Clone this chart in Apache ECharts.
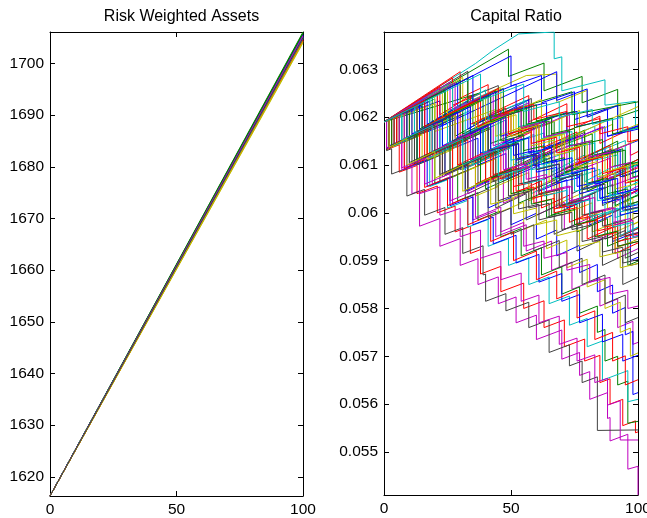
<!DOCTYPE html>
<html>
<head>
<meta charset="utf-8">
<script src="https://cdn.jsdelivr.net/npm/echarts@6/dist/echarts.min.js"></script>
<style>html,body{margin:0;padding:0;background:#fff}#c{width:647px;height:518px}</style>
</head>
<body>
<div id="c"></div>
<script>
// ---------- data ----------
const titles = ['Risk Weighted Assets', 'Capital Ratio'];
const xTicks = [0, 50, 100];
const rwaTicks = [1620, 1630, 1640, 1650, 1660, 1670, 1680, 1690, 1700];
const ratioTicks = [0.055, 0.056, 0.057, 0.058, 0.059, 0.06, 0.061, 0.062, 0.063];
const rwaRange = [1616.3, 1706.1];
const ratioRange = [0.0541, 0.06378];
const rwaStart = 1616.3;
const rwaEnd = [1705.2, 1705.9, 1704.4, 1705.0, 1704.7, 1704.2, 1704.9, 1705.5, 1706.1, 1704.6, 1705.3,
  1705.1, 1704.0, 1704.8, 1705.6, 1705.8, 1704.5, 1704.9, 1705.4, 1704.3, 1705.0];
const palette = ['#0000ff', '#008000', '#ff0000', '#00bfbf', '#bf00bf', '#bfbf00', '#404040'];

const cr01 = [[0,.0619],[8,.0621],[8,.0615],[22,.06185],[22,.0613],[35,.06163],[35,.06105],[52,.06147],[52,.0609],[70,.06135],[70,.0608],[84,.06115],[84,.0606],[95,.06088],[95,.06035],[100,.06048]];
const cr02 = [[0,.0619],[49,.06342],[49,.06285],[63,.06313],[63,.06255],[78,.06285],[78,.0623],[92,.06258],[92,.062],[100,.06214]];
const cr03 = [[0,.0619],[30,.06295],[30,.0624],[41,.06268],[41,.06205],[57,.06245],[57,.0619],[72,.06228],[72,.0617],[85,.06202],[85,.06145],[97,.06175],[97,.0612],[100,.06128]];
const cr04 = [[0,.0619],[36,.06312],[43,.0634],[53,.06374],[67,.06378],[67,.06322],[70,.06326],[70,.06255],[87,.06278],[87,.06225],[99,.06233],[99,.0618],[100,.06181]];
const cr05 = [[0,.0619],[4,.062],[4,.0614],[14,.06165],[14,.0611],[26,.0614],[26,.06085],[33,.06102],[33,.06045],[47,.0608],[47,.0602],[60,.06052],[60,.05995],[71,.06022],[71,.05965],[83,.05995],[83,.0594],[92,.05962],[92,.05905],[100,.05925]];
const cr06 = [[0,.0619],[24,.06262],[24,.0621],[56,.06287],[68,.0629],[68,.0623],[80,.06256],[80,.062],[93,.06228],[93,.0617],[100,.06185]];
const cr07 = [[0,.0619],[33,.06296],[33,.0624],[45,.06266],[45,.0621],[58,.06239],[58,.0618],[66,.06198],[66,.0614],[79,.06168],[79,.0611],[90,.06134],[90,.0608],[100,.06102]];
const cr08 = [[0,.0619],[50,.06328],[50,.06265],[62,.06287],[62,.0623],[75,.06253],[75,.06195],[88,.06218],[88,.0616],[100,.06182]];
const cr09 = [[0,.0619],[2,.06195],[2,.06135],[18,.06172],[18,.06115],[29,.0614],[29,.0608],[40,.06105],[40,.0605],[53,.0608],[53,.0602],[64,.06045],[64,.0599],[76,.06018],[76,.0596],[88,.05988],[88,.0593],[96,.05948],[96,.0589],[100,.05899]];
const cr10 = [[0,.0619],[1,.06192],[1,.06132],[6,.06142],[6,.06085],[13,.06099],[13,.0604],[21,.06056],[21,.06],[28,.06014],[28,.0596],[34,.05972],[34,.05915],[38,.05923],[38,.05872],[46,.05888],[46,.05835],[55,.05853],[55,.058],[63,.05816],[63,.0576],[71,.05776],[71,.0572],[79,.05736],[79,.0569],[85,.05702],[85,.05645],[89,.05653],[89,.056],[94,.0561],[94,.05555],[99,.05565],[99,.0554],[100,.05542]];
const cr11 = [[0,.0619],[12,.06221],[12,.0616],[27,.06199],[27,.0614],[44,.06184],[44,.06125],[59,.06164],[59,.06105],[74,.06144],[74,.0609],[86,.06121],[86,.06065],[99,.06099],[99,.0604],[100,.06042]];
const cr12 = [[0,.0619],[3,.06196],[3,.0614],[8,.0615],[8,.0609],[11,.06096],[11,.0604],[14,.06046],[14,.05972],[22,.05988],[22,.0593],[30,.05946],[30,.0589],[37,.05904],[37,.0585],[45,.05866],[45,.0581],[52,.05824],[52,.0577],[60,.05786],[60,.05735],[70,.05755],[70,.05694],[77,.05708],[77,.0566],[81,.05668],[81,.0561],[88,.05624],[88,.0557],[89,.05572],[89,.05523],[96,.05537],[96,.05464],[100,.0547],[100,.0541]];
const cr13 = [[0,.0619],[6,.06204],[6,.0615],[19,.06181],[19,.06125],[31,.06154],[31,.06095],[42,.06121],[42,.06065],[50,.06084],[50,.0603],[67,.06071],[67,.06015],[78,.06041],[78,.05985],[89,.06011],[89,.05955],[100,.05981]];
const cr14 = [[0,.0619],[1,.06192],[1,.0613],[3,.06134],[3,.06081],[9,.06093],[9,.06035],[16,.06049],[16,.05995],[24,.06011],[24,.05955],[31,.05969],[31,.05915],[39,.05931],[39,.0587],[40,.05872],[40,.05815],[48,.05831],[48,.05795],[57,.05813],[57,.0576],[65,.05776],[65,.05708],[73,.05724],[73,.0568],[78,.0569],[78,.05645],[84,.05657],[84,.05545],[100,.05546]];
const cr15 = [[0,.0619],[15,.06223],[15,.06165],[25,.06187],[25,.0613],[37,.06156],[37,.061],[48,.06124],[48,.0607],[61,.06099],[61,.06045],[72,.06069],[72,.0601],[81,.0603],[81,.05975],[90,.05995],[90,.0594],[97,.05955],[97,.059],[100,.05907]];
const cr16 = [[0,.0619],[38,.06251],[38,.06195],[74,.06253],[74,.06205],[100,.06232]];
const cr17 = [[0,.0619],[5,.06202],[5,.06145],[17,.06175],[17,.0612],[23,.06135],[23,.0608],[36,.06112],[36,.0606],[51,.06097],[51,.0604],[62,.06067],[62,.0601],[73,.06037],[73,.0598],[80,.05997],[80,.05945],[91,.05972],[91,.05915],[100,.05937]];
const cr18 = [[0,.0619],[20,.06238],[20,.0618],[34,.06214],[34,.0616],[48,.06194],[48,.0614],[63,.06167],[63,.0611],[76,.06133],[76,.06075],[85,.06091],[85,.0603],[91,.06041],[91,.0599],[100,.06006]];
const cr19 = [[0,.0619],[1,.06192],[1,.06135],[10,.06154],[10,.061],[19,.06119],[19,.0606],[27,.06077],[27,.0602],[35,.06037],[35,.05985],[44,.06004],[44,.0595],[56,.05975],[56,.0592],[66,.05941],[66,.0588],[74,.05897],[74,.0584],[85,.05863],[85,.05805],[92,.0582],[92,.0576],[98,.05773],[98,.05725],[100,.05729]];
const cr20 = [[0,.0619],[11,.06219],[11,.0616],[26,.06199],[26,.06145],[39,.06179],[39,.0612],[54,.06159],[54,.061],[69,.06139],[69,.06085],[79,.06111],[79,.06055],[88,.06078],[88,.0602],[95,.06038],[95,.0598],[100,.05993]];
const cr21 = [[0,.0619],[7,.06206],[7,.0615],[20,.0618],[20,.06125],[30,.06148],[30,.0609],[43,.0612],[43,.06065],[55,.06093],[55,.0604],[68,.0607],[68,.0601],[77,.06031],[77,.05975],[87,.05998],[87,.05945],[95,.05963],[95,.05905],[100,.05917]];
const cr22 = [[0,.0619],[2,.06195],[2,.0614],[13,.06166],[13,.0611],[24,.06136],[24,.0608],[32,.06099],[32,.06045],[41,.06067],[41,.0601],[50,.06032],[50,.05975],[60,.05999],[60,.05945],[68,.05964],[68,.0591],[77,.05932],[77,.05875],[84,.05892],[84,.05835],[90,.05849],[90,.0579],[95,.05802],[95,.05745],[98,.05752],[98,.0562],[100,.05624]];
const cr23 = [[0,.0619],[4,.06198],[4,.0614],[12,.06157],[12,.061],[20,.06117],[20,.0606],[29,.06079],[29,.06025],[37,.06042],[37,.05985],[46,.06004],[46,.0595],[54,.05967],[54,.0591],[62,.05927],[62,.0587],[70,.05887],[70,.0583],[77,.05845],[77,.0579],[84,.05805],[84,.0575],[87,.05756],[87,.0569],[92,.057],[92,.0564],[96,.05648],[96,.0556],[100,.05564]];
const cr24 = [[0,.0619],[16,.06232],[16,.06175],[30,.06211],[30,.06155],[45,.06194],[45,.06135],[58,.06169],[58,.0611],[71,.06144],[71,.0609],[82,.06119],[82,.0606],[93,.06089],[93,.0603],[100,.06048]];
const cr25 = [[0,.0619],[3,.06196],[3,.06138],[10,.06152],[10,.06095],[18,.06111],[18,.06055],[25,.06069],[25,.0601],[33,.06026],[33,.0597],[41,.05986],[41,.0593],[49,.05946],[49,.0589],[57,.05906],[57,.0585],[65,.05866],[65,.0581],[73,.05826],[73,.05765],[80,.05779],[80,.0572],[86,.05732],[86,.0565],[96,.0567],[96,.05605],[100,.0561]];
const cr26 = [[0,.0619],[1,.06192],[1,.06135],[7,.06146],[7,.0609],[14,.06103],[14,.0604],[22,.06054],[22,.05995],[30,.06009],[30,.0595],[38,.05964],[38,.05905],[46,.05919],[46,.0586],[54,.05874],[54,.05815],[61,.05828],[61,.0577],[69,.05784],[69,.05725],[76,.05738],[76,.0569],[83,.05703],[83,.05645],[88,.05654],[88,.05598],[93,.05607],[93,.05525],[100,.05525]];
const cr27 = [[0,.0619],[8,.06208],[8,.0615],[17,.0617],[17,.0611],[27,.06132],[27,.06075],[36,.06095],[36,.06035],[45,.06055],[45,.06],[55,.06022],[55,.05965],[64,.05985],[64,.05925],[72,.05943],[72,.05885],[80,.05903],[80,.05845],[87,.0586],[87,.058],[93,.05813],[93,.0575],[97,.05759],[97,.057],[100,.05707]];
const cr28 = [[0,.0619],[18,.06233],[18,.06175],[31,.06206],[31,.0615],[42,.06176],[42,.0612],[52,.06144],[52,.06085],[64,.06114],[64,.06055],[74,.06079],[74,.0602],[83,.06042],[83,.05985],[93,.06009],[93,.0595],[100,.05967]];
const cr29 = [[0,.0619],[22,.06234],[22,.0618],[68,.06295],[68,.06235],[80,.06259],[80,.062],[92,.06224],[92,.06165],[100,.06181]];
const cr30 = [[0,.0619],[14,.06232],[14,.06175],[28,.06217],[28,.0616],[42,.06202],[42,.06145],[60,.06181],[60,.06125],[73,.06151],[73,.06095],[86,.06121],[86,.06065],[97,.06087],[97,.0603],[100,.06036]];
const cr31 = [[0,.0619],[27,.06282],[27,.06225],[38,.06249],[38,.0619],[50,.06216],[50,.0616],[61,.06184],[61,.06125],[75,.06156],[75,.061],[88,.06126],[88,.0607],[100,.06094]];
const cr32 = [[0,.0619],[7,.0621],[7,.0615],[22,.06192],[22,.06135],[38,.0618],[38,.0612],[51,.06156],[51,.061],[66,.06142],[66,.06085],[79,.06121],[79,.06065],[91,.06099],[91,.0604],[100,.06065]];
const cr33 = [[0,.0619],[21,.06247],[21,.0619],[36,.0623],[36,.06175],[47,.06205],[47,.06145],[59,.06177],[59,.0612],[70,.0615],[70,.0609],[84,.06128],[84,.0607],[94,.06097],[94,.0604],[100,.06056]];
const cr34 = [[0,.0619],[3,.06197],[3,.06137],[15,.06163],[15,.06108],[29,.06139],[29,.0608],[44,.06113],[44,.06055],[57,.06084],[57,.06025],[70,.06054],[70,.05995],[82,.06021],[82,.0596],[91,.0598],[91,.05925],[100,.05945]];
const cr35 = [[0,.0619],[2,.06195],[2,.06138],[11,.0616],[11,.06103],[23,.06133],[23,.06075],[33,.061],[33,.0604],[44,.06068],[44,.0601],[56,.0604],[56,.05985],[67,.06012],[67,.05955],[76,.05977],[76,.0592],[86,.05945],[86,.0589],[94,.0591],[94,.0585],[100,.05865]];
const cr36 = [[0,.0619],[29,.06271],[29,.06215],[44,.06257],[44,.062],[57,.06236],[57,.0618],[72,.0621],[72,.0615],[87,.0618],[87,.06125],[100,.06151]];
const cr37 = [[0,.0619],[19,.06251],[19,.0619],[35,.06241],[35,.06185],[54,.06223],[54,.06165],[67,.06191],[67,.06135],[82,.06165],[82,.0611],[94,.06134],[94,.06075],[100,.06087]];
const cr38 = [[0,.0619],[10,.06213],[10,.06155],[19,.06176],[19,.0612],[33,.06152],[33,.06095],[46,.06125],[46,.0607],[60,.06102],[60,.06045],[69,.06066],[69,.0601],[81,.06038],[81,.0598],[90,.06001],[90,.05945],[100,.05968]];
const cr39 = [[0,.0619],[25,.06268],[25,.0621],[40,.06257],[40,.062],[56,.06235],[56,.0618],[69,.06209],[69,.0615],[83,.06181],[83,.06125],[95,.06151],[95,.06095],[100,.06106]];
const cr40 = [[0,.0619],[13,.06228],[13,.0617],[28,.06214],[28,.06155],[43,.06199],[43,.0614],[58,.0617],[58,.0611],[72,.06138],[72,.0608],[89,.06114],[89,.06055],[100,.06077]];
const cr41 = [[0,.0619],[31,.06283],[31,.06225],[46,.0626],[46,.062],[62,.06237],[62,.0618],[77,.06214],[77,.06155],[90,.06185],[90,.0613],[100,.06153]];
const cr42 = [[0,.0619],[5,.06203],[5,.06145],[21,.06187],[21,.0613],[36,.06169],[36,.0611],[49,.06144],[49,.0609],[63,.06126],[63,.0607],[74,.06099],[74,.0604],[86,.06071],[86,.06015],[97,.06044],[97,.05985],[100,.05993]];
const cr43 = [[0,.0619],[1,.06192],[1,.06136],[9,.06152],[9,.06095],[17,.06111],[17,.06055],[26,.06073],[26,.06015],[35,.06033],[35,.05975],[43,.05991],[43,.05935],[52,.05953],[52,.05895],[61,.05913],[61,.05855],[70,.05873],[70,.05815],[77,.05829],[77,.0577],[86,.05788],[86,.0573],[94,.05746],[94,.0569],[100,.05702]];
const cr44 = [[0,.0619],[24,.06255],[24,.06195],[39,.06236],[39,.0618],[53,.06218],[53,.0616],[65,.06192],[65,.06135],[79,.06173],[79,.06115],[92,.0615],[92,.0609],[100,.06112]];
const cr45 = [[0,.0619],[2,.06194],[2,.06137],[8,.0615],[8,.06093],[16,.06111],[16,.06053],[25,.06073],[25,.06015],[33,.06033],[33,.05975],[42,.05995],[42,.0594],[51,.0596],[51,.059],[60,.0592],[60,.0586],[68,.05878],[68,.0582],[76,.05838],[76,.0578],[83,.05795],[83,.05735],[90,.0575],[90,.0569],[95,.05701],[95,.0564],[100,.05651]];
const cr46 = [[0,.0619],[9,.06212],[9,.06155],[23,.06189],[23,.0613],[35,.06159],[35,.061],[50,.06136],[50,.0608],[64,.06114],[64,.06055],[77,.06086],[77,.0603],[87,.06054],[87,.05995],[96,.06017],[96,.0596],[100,.0597]];
const cr47 = [[0,.0619],[16,.06232],[16,.06175],[29,.06209],[29,.0615],[41,.06181],[41,.06125],[54,.06159],[54,.061],[67,.06134],[67,.06075],[80,.06109],[80,.0605],[90,.06076],[90,.0602],[100,.06046]];
const cr48 = [[0,.0619],[13,.06223],[13,.06165],[28,.06203],[28,.06145],[40,.06175],[40,.06115],[51,.06143],[51,.06085],[65,.0612],[65,.06065],[78,.06098],[78,.0604],[88,.06065],[88,.06005],[98,.0603],[98,.05975],[100,.0598]];
const cr49 = [[0,.0619],[6,.06203],[6,.06145],[13,.0616],[13,.061],[22,.0612],[22,.06065],[32,.06087],[32,.0603],[41,.0605],[41,.0599],[50,.0601],[50,.05955],[59,.05975],[59,.0592],[69,.05942],[69,.05885],[78,.05905],[78,.0585],[87,.0587],[87,.0581],[95,.05828],[95,.0577],[100,.05781]];
const cr50 = [[0,.0619],[17,.06241],[17,.06185],[33,.06233],[33,.06175],[46,.06214],[46,.0616],[63,.06191],[63,.06135],[78,.06162],[78,.06105],[93,.06132],[93,.06075],[100,.06088]];
const cr51 = [[0,.0619],[10,.06215],[10,.0616],[26,.062],[26,.0614],[41,.06178],[41,.0612],[55,.06155],[55,.061],[66,.06128],[66,.0607],[80,.06105],[80,.06045],[91,.06073],[91,.06015],[100,.06038]];
const cr52 = [[0,.0619],[22,.06263],[22,.06205],[34,.06245],[34,.06185],[48,.06219],[48,.0616],[62,.06194],[62,.06135],[76,.06169],[76,.0611],[89,.06141],[89,.06085],[100,.06111]];
const cr53 = [[0,.0619],[4,.062],[4,.0614],[18,.06175],[18,.06115],[31,.06148],[31,.0609],[45,.06125],[45,.06065],[58,.06098],[58,.0604],[70,.0607],[70,.0601],[82,.0604],[82,.05985],[92,.0601],[92,.0595],[100,.0597]];
const cr54 = [[0,.0619],[26,.06273],[26,.06215],[42,.06252],[42,.06195],[57,.0623],[57,.0617],[73,.06207],[73,.0615],[86,.0618],[86,.0612],[97,.06145],[97,.0609],[100,.06097]];
const cr55 = [[0,.0619],[20,.06228],[20,.0617],[44,.06216],[44,.0616],[70,.06209],[70,.0615],[100,.06222]];
const cr56 = [[0,.0619],[12,.06219],[12,.0616],[25,.06191],[25,.06135],[38,.06166],[38,.0611],[53,.06146],[53,.06085],[66,.06116],[66,.0606],[78,.06089],[78,.0603],[90,.06059],[90,.06],[100,.06024]];
const cr57 = [[0,.0619],[9,.06214],[9,.06158],[23,.06193],[23,.0614],[38,.06178],[38,.06125],[52,.06143],[52,.0611],[60,.0612],[60,.06085],[68,.06095],[68,.06062],[77,.06074],[77,.0604],[86,.06052],[86,.0602],[93,.06029],[93,.05995],[100,.06004]];
const cr58 = [[0,.0619],[15,.06232],[15,.06178],[31,.06222],[31,.06165],[46,.06203],[46,.0615],[55,.06162],[55,.0613],[63,.0614],[63,.06105],[71,.06115],[71,.06085],[80,.06097],[80,.06062],[88,.06072],[88,.0604],[96,.0605],[96,.06018],[100,.06023]];
const cr59 = [[0,.0619],[3,.06198],[3,.0614],[16,.06175],[16,.0612],[29,.06153],[29,.061],[43,.06135],[43,.0608],[54,.06093],[54,.0606],[61,.06069],[61,.0604],[70,.06051],[70,.06015],[79,.06026],[79,.05995],[87,.06005],[87,.0597],[95,.0598],[95,.0595],[100,.05956]];
const cr60 = [[0,.0619],[27,.0627],[27,.06215],[41,.0625],[41,.06195],[53,.06213],[53,.0618],[62,.06191],[62,.06155],[74,.0617],[74,.06135],[83,.06146],[83,.0611],[92,.06121],[92,.0609],[100,.061]];
const cr61 = [[0,.0619],[6,.06206],[6,.0615],[19,.06183],[19,.06128],[34,.06165],[34,.0611],[47,.06142],[47,.0609],[56,.06102],[56,.0607],[64,.0608],[64,.06045],[73,.06056],[73,.06025],[81,.06035],[81,.06],[90,.06011],[90,.0598],[97,.05988],[97,.05955],[100,.05959]];
const cr62 = [[0,.0619],[20,.06245],[20,.0619],[36,.0623],[36,.06175],[50,.0621],[50,.0616],[58,.0617],[58,.0614],[67,.06152],[67,.0612],[75,.0613],[75,.06095],[84,.06107],[84,.06075],[91,.06083],[91,.0605],[100,.06061]];
const cr63 = [[0,.0619],[1,.06192],[1,.06134],[12,.06162],[12,.06105],[24,.06135],[24,.0608],[37,.06113],[37,.0606],[49,.0609],[49,.06035],[57,.06045],[57,.0601],[65,.0602],[65,.0599],[74,.06001],[74,.05965],[82,.05975],[82,.0594],[90,.0595],[90,.05915],[97,.05924],[97,.0589],[100,.05894]];
const cr64 = [[0,.0619],[11,.06221],[11,.06165],[26,.06203],[26,.06148],[39,.06181],[39,.06125],[51,.06155],[51,.0612],[59,.0613],[59,.06098],[68,.0611],[68,.06075],[76,.06085],[76,.06055],[85,.06066],[85,.0603],[94,.06042],[94,.0601],[100,.06017]];
const cr65 = [[0,.0619],[33,.06282],[33,.06225],[47,.0626],[47,.06205],[56,.0622],[56,.06185],[66,.06198],[66,.06165],[75,.06176],[75,.0614],[86,.06153],[86,.0612],[95,.06131],[95,.061],[100,.06106]];
const cr66 = [[0,.0619],[4,.062],[4,.06143],[14,.06168],[14,.06112],[27,.06144],[27,.0609],[40,.06122],[40,.06065],[52,.06095],[52,.06045],[59,.06054],[59,.0602],[67,.0603],[67,.06],[76,.06011],[76,.05975],[84,.05985],[84,.0595],[92,.0596],[92,.0593],[100,.0594]];
const cr67 = [[0,.0619],[18,.0624],[18,.06185],[32,.0622],[32,.06165],[45,.06198],[45,.0614],[54,.06152],[54,.0612],[62,.0613],[62,.061],[71,.06111],[71,.0608],[80,.06091],[80,.06058],[89,.06069],[89,.06035],[97,.06045],[97,.06015],[100,.06019]];
const cr68 = [[0,.0619],[8,.06211],[8,.06155],[21,.06187],[21,.0613],[35,.06165],[35,.0611],[48,.06143],[48,.06085],[57,.06097],[57,.06065],[66,.06077],[66,.06045],[74,.06055],[74,.0602],[83,.06032],[83,.06],[91,.0601],[91,.05975],[98,.05984],[98,.0595],[100,.05953]];
const cr69 = [[0,.0619],[23,.06254],[23,.06198],[37,.06233],[37,.06178],[51,.06213],[51,.0617],[60,.06182],[60,.0615],[70,.06163],[70,.0613],[78,.0614],[78,.06108],[87,.0612],[87,.06085],[96,.06097],[96,.06065],[100,.0607]];
const cr70 = [[0,.0619],[2,.06195],[2,.06138],[10,.0616],[10,.06105],[22,.06135],[22,.0608],[33,.06107],[33,.0605],[45,.0608],[45,.06025],[53,.0604],[53,.06008],[61,.06018],[61,.05985],[70,.05997],[70,.05965],[78,.05975],[78,.0594],[86,.0595],[86,.05918],[94,.05928],[94,.05895],[100,.05902]];
const cr71 = [[0,.0619],[14,.06229],[14,.06173],[29,.06211],[29,.06155],[42,.06187],[42,.0613],[53,.06144],[53,.06115],[61,.06125],[61,.06092],[69,.06102],[69,.0607],[77,.0608],[77,.06048],[86,.0606],[86,.06025],[94,.06035],[94,.06005],[100,.06012]];
const cr72 = [[0,.0619],[30,.06277],[30,.0622],[44,.06255],[44,.062],[55,.06214],[55,.0618],[64,.06191],[64,.0616],[73,.06171],[73,.0614],[82,.06151],[82,.0612],[91,.06131],[91,.06098],[98,.06106],[98,.06075],[100,.06077]];
const cr73 = [[0,.0619],[5,.06203],[5,.06146],[17,.06176],[17,.06122],[30,.06153],[30,.06098],[42,.06126],[42,.0607],[51,.06089],[51,.06055],[58,.06063],[58,.0603],[67,.06041],[67,.06008],[75,.06017],[75,.05985],[84,.05996],[84,.05962],[92,.05972],[92,.0594],[100,.0595]];
const cr74 = [[0,.0619],[12,.06223],[12,.06168],[25,.062],[25,.06145],[39,.0618],[39,.06125],[50,.06151],[50,.0611],[58,.0612],[58,.0609],[67,.06101],[67,.0607],[75,.06079],[75,.06045],[84,.06056],[84,.06025],[93,.06036],[93,.06002],[100,.0601]];
const cr75 = [[0,.0619],[1,.06192],[1,.06135],[7,.0615],[7,.06094],[16,.06115],[16,.0606],[26,.06082],[26,.06025],[36,.06047],[36,.0599],[46,.06012],[46,.0596],[55,.0598],[55,.0593],[63,.05941],[63,.05905],[72,.05917],[72,.0588],[81,.05892],[81,.05855],[89,.05865],[89,.0583],[96,.05838],[96,.058],[100,.05805]];
const cr76 = [[0,.0619],[25,.0626],[25,.06205],[40,.06241],[40,.06185],[52,.06205],[52,.06175],[61,.06187],[61,.06152],[71,.06165],[71,.06132],[80,.06144],[80,.0611],[90,.06123],[90,.0609],[100,.06103]];
const cr77 = [[0,.0619],[9,.06212],[9,.06156],[20,.06183],[20,.06128],[32,.06158],[32,.061],[44,.0613],[44,.06075],[53,.06093],[53,.0606],[61,.0607],[61,.06038],[69,.06048],[69,.06015],[78,.06027],[78,.05995],[86,.06005],[86,.05972],[95,.05984],[95,.05952],[100,.05958]];
const cr78 = [[0,.0619],[16,.06232],[16,.06177],[34,.06222],[34,.06165],[48,.062],[48,.06145],[57,.06157],[57,.06125],[66,.06137],[66,.06105],[74,.06115],[74,.06082],[83,.06094],[83,.0606],[92,.06072],[92,.0604],[100,.0605]];
const cr79 = [[0,.0619],[3,.06197],[3,.0614],[13,.06166],[13,.0611],[26,.06143],[26,.06088],[38,.06118],[38,.06062],[50,.06092],[50,.0604],[58,.0605],[58,.06018],[66,.06028],[66,.05995],[75,.06007],[75,.05975],[83,.05985],[83,.0595],[92,.05962],[92,.0593],[100,.0594]];
const cr80 = [[0,.0619],[21,.0625],[21,.06195],[37,.06235],[37,.0618],[49,.0621],[49,.06165],[58,.06177],[58,.06145],[68,.06158],[68,.06125],[77,.06137],[77,.06105],[86,.06117],[86,.06082],[95,.06094],[95,.06062],[100,.06068]];
const cr81 = [[0,.0619],[7,.06208],[7,.06152],[19,.06183],[19,.06126],[31,.06155],[31,.061],[45,.06134],[45,.06078],[55,.06091],[55,.0606],[63,.0607],[63,.06035],[72,.06047],[72,.06015],[81,.06027],[81,.05992],[90,.06004],[90,.0597],[98,.0598],[98,.05948],[100,.05951]];
const cr82 = [[0,.0619],[28,.06272],[28,.06216],[43,.06254],[43,.06198],[54,.06212],[54,.06178],[63,.0619],[63,.06158],[72,.0617],[72,.06138],[81,.0615],[81,.06117],[89,.06127],[89,.06095],[97,.06105],[97,.06072],[100,.06076]];
const cr83 = [[0,.0619],[2,.06195],[2,.06137],[9,.06155],[9,.061],[20,.06128],[20,.06072],[31,.061],[31,.06045],[42,.06073],[42,.06018],[51,.0603],[51,.05998],[60,.0601],[60,.05975],[68,.05985],[68,.05952],[77,.05964],[77,.0593],[85,.0594],[85,.05908],[93,.05918],[93,.05885],[100,.05894]];
const cr84 = [[0,.0619],[13,.06225],[13,.0617],[27,.06205],[27,.0615],[41,.06185],[41,.0613],[52,.06144],[52,.06112],[60,.06122],[60,.0609],[69,.06102],[69,.0607],[78,.06082],[78,.06048],[87,.0606],[87,.06028],[95,.06038],[95,.06005],[100,.06011]];
const cr85 = [[0,.0619],[35,.06287],[35,.06232],[52,.06269],[52,.06215],[64,.0623],[64,.06198],[76,.06212],[76,.0618],[88,.06195],[88,.0616],[100,.06175]];
const cr86 = [[0,.0619],[24,.06257],[24,.062],[42,.06245],[42,.0619],[60,.06226],[60,.06192],[75,.06212],[75,.06178],[90,.06198],[90,.06165],[100,.06178]];
const cr87 = [[0,.0619],[16,.06235],[16,.0618],[45,.0626],[45,.06205],[59,.06227],[59,.06195],[72,.06212],[72,.0618],[85,.06197],[85,.06165],[96,.0618],[96,.06148],[100,.06153]];
const cr88 = [[0,.0619],[38,.0629],[38,.06235],[55,.06269],[55,.06212],[69,.06232],[69,.062],[82,.06216],[82,.06185],[94,.062],[94,.0617],[100,.06177]];

const ratioPaths = [cr01,cr02,cr03,cr04,cr05,cr06,cr07,cr08,cr09,cr10,cr11,cr12,cr13,cr14,cr15,cr16,cr17,cr18,cr19,cr20,
  cr21,cr22,cr23,cr24,cr25,cr26,cr27,cr28,cr29,cr30,cr31,cr32,cr33,cr34,cr35,cr36,cr37,cr38,cr39,cr40,
  cr41,cr42,cr43,cr44,cr45,cr46,cr47,cr48,cr49,cr50,cr51,cr52,cr53,cr54,cr55,cr56,cr57,cr58,cr59,cr60,
  cr61,cr62,cr63,cr64,cr65,cr66,cr67,cr68,cr69,cr70,cr71,cr72,cr73,cr74,cr75,cr76,cr77,cr78,cr79,cr80,
  cr81,cr82,cr83,cr84,cr85,cr86,cr87,cr88];

// ---------- chart ----------
const FONT = 'Liberation Sans, Arial, Helvetica, sans-serif';
const chart = echarts.init(document.getElementById('c'), null, {renderer: 'canvas'});

const grids = [
  {left: 50, top: 32, width: 253, height: 464, outerBoundsMode: 'none', containLabel: false},
  {left: 384, top: 32, width: 254, height: 463, outerBoundsMode: 'none', containLabel: false}
];

function xAxis(gi, pos, showLabel) {
  return {
    type: 'value', gridIndex: gi, position: pos, min: 0, max: 100, interval: 50,
    axisLine: {show: true, onZero: false, lineStyle: {color: '#000', width: 1}},
    axisTick: {show: true, inside: true, length: 5, lineStyle: {color: '#000', width: 1}},
    axisLabel: {show: showLabel, margin: 6, color: '#000', fontSize: 15.5, fontFamily: FONT,
      customValues: xTicks, hideOverlap: false},
    splitLine: {show: false}
  };
}
function yAxis(gi, pos, showLabel, range, ticks, fmt) {
  return {
    type: 'value', gridIndex: gi, position: pos, min: range[0], max: range[1],
    axisLine: {show: true, onZero: false, lineStyle: {color: '#000', width: 1}},
    axisTick: {show: true, inside: true, length: 5, customValues: ticks, lineStyle: {color: '#000', width: 1}},
    axisLabel: {show: showLabel, margin: 6, color: '#000', fontSize: 15.5, fontFamily: FONT,
      customValues: ticks, formatter: fmt},
    splitLine: {show: false}
  };
}
const fmtInt = v => String(Math.round(v));
const fmtRatio = v => String(parseFloat(v.toFixed(3)));

const series = [];
rwaEnd.forEach((e, i) => {
  series.push({
    type: 'line', xAxisIndex: 0, yAxisIndex: 0, symbol: 'none', silent: true,
    data: [[0, rwaStart], [100, e]],
    lineStyle: {width: 1, color: palette[i % palette.length]}
  });
});
ratioPaths.forEach((p, i) => {
  series.push({
    type: 'line', xAxisIndex: 2, yAxisIndex: 2, symbol: 'none', silent: true,
    data: p,
    lineStyle: {width: 1, color: palette[i % palette.length]}
  });
});

chart.setOption({
  animation: false,
  backgroundColor: '#fff',
  title: [
    {text: titles[0], left: 176.5, top: 4, textAlign: 'center',
      textStyle: {fontSize: 16, fontWeight: 'normal', color: '#000', fontFamily: FONT}},
    {text: titles[1], left: 511, top: 4, textAlign: 'center',
      textStyle: {fontSize: 16, fontWeight: 'normal', color: '#000', fontFamily: FONT}}
  ],
  grid: grids,
  xAxis: [xAxis(0, 'bottom', true), xAxis(0, 'top', false), xAxis(1, 'bottom', true), xAxis(1, 'top', false)],
  yAxis: [
    yAxis(0, 'left', true, rwaRange, rwaTicks, fmtInt),
    yAxis(0, 'right', false, rwaRange, rwaTicks, fmtInt),
    yAxis(1, 'left', true, ratioRange, ratioTicks, fmtRatio),
    yAxis(1, 'right', false, ratioRange, ratioTicks, fmtRatio)
  ],
  series: series
});
</script>
</body>
</html>
